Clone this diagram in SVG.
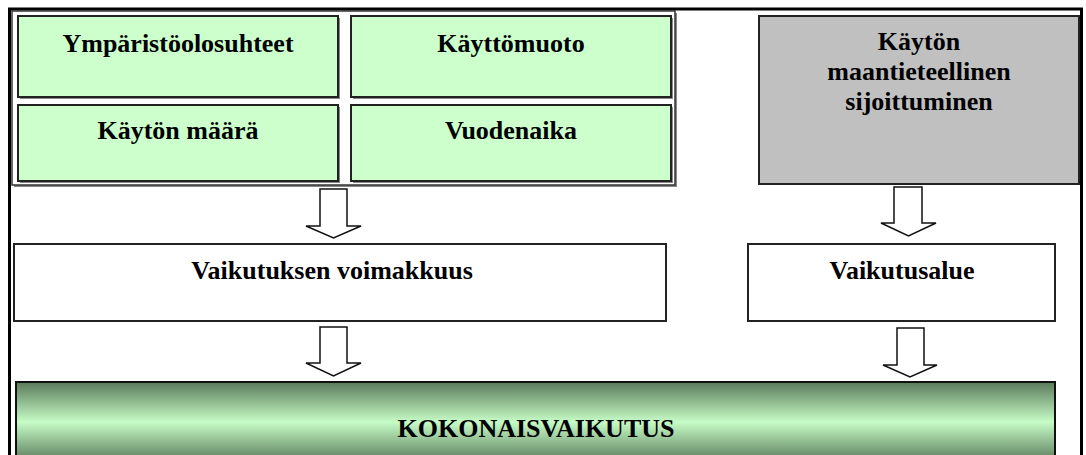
<svg xmlns="http://www.w3.org/2000/svg" width="1086" height="455" viewBox="0 0 1086 455">
<defs>
<linearGradient id="gk" x1="0" y1="0" x2="0" y2="1">
<stop offset="0" stop-color="#5a7a5a"/>
<stop offset="0.5" stop-color="#c6fcc6"/>
<stop offset="1" stop-color="#5a7a5a"/>
</linearGradient>
</defs>
<style>
.t{font-family:'Liberation Serif','Times New Roman','DejaVu Serif',serif;font-weight:700;font-size:26px;fill:#000;text-anchor:middle}
.cell{fill:#ccffcc;stroke:#222;stroke-width:2}
.sh{fill:#888}
.box{fill:#fff;stroke:#222;stroke-width:2}
.arr{fill:#fff;stroke:#111;stroke-width:1.5;stroke-linejoin:miter}
</style>
<rect x="0" y="0" width="1086" height="455" fill="#fff"/>
<rect id="frame" x="9.5" y="9" width="1072" height="460" fill="none" stroke="#000" stroke-width="3"/>
<g id="group">
<rect x="14" y="13" width="663" height="174" fill="#888"/>
<rect x="12" y="11" width="663" height="174" fill="#fff" stroke="#333" stroke-width="1.5"/>
</g>
<g id="n1">
<rect class="sh" x="20" y="18" width="320" height="81"/>
<rect class="cell" x="18" y="16" width="320" height="81"/>
<text class="t" x="178" y="52" font-family="Liberation Serif, serif">Ympäristöolosuhteet</text>
</g>
<g id="n2">
<rect class="sh" x="353" y="18" width="320" height="81"/>
<rect class="cell" x="351" y="16" width="320" height="81"/>
<text class="t" x="511" y="52">Käyttömuoto</text>
</g>
<g id="n3">
<rect class="sh" x="20" y="107" width="320" height="76"/>
<rect class="cell" x="18" y="105" width="320" height="76"/>
<text class="t" x="178" y="139">Käytön määrä</text>
</g>
<g id="n4">
<rect class="sh" x="353" y="107" width="320" height="76"/>
<rect class="cell" x="351" y="105" width="320" height="76"/>
<text class="t" x="511" y="139">Vuodenaika</text>
</g>
<g id="n5">
<rect x="759" y="16" width="320" height="168" fill="#c0c0c0" stroke="#222" stroke-width="2"/>
<text class="t" x="919" y="50">Käytön</text>
<text class="t" x="919" y="80">maantieteellinen</text>
<text class="t" x="919" y="110">sijoittuminen</text>
</g>
<g id="n6">
<rect class="box" x="14" y="244" width="652" height="77"/>
<text class="t" x="332" y="279">Vaikutuksen voimakkuus</text>
</g>
<g id="n7">
<rect class="box" x="748" y="244" width="307" height="77"/>
<text class="t" x="902" y="279">Vaikutusalue</text>
</g>
<g id="n8">
<rect x="16" y="382" width="1039" height="80" fill="url(#gk)" stroke="#111" stroke-width="2"/>
<text class="t" x="536" y="437">KOKONAISVAIKUTUS</text>
</g>
<g id="connectors">
<polygon class="arr" points="320,189 347,189 347,226 361,226 333.5,238 306,226 320,226"/>
<polygon class="arr" points="320,327 347,327 347,363 361,363 333.5,376 306,363 320,363"/>
<polygon class="arr" points="894,187 922,187 922,223 936,223 908.5,236 881,223 894,223"/>
<polygon class="arr" points="897,328 924,328 924,365 937,365 910,377 883,365 897,365"/>
</g>
</svg>
